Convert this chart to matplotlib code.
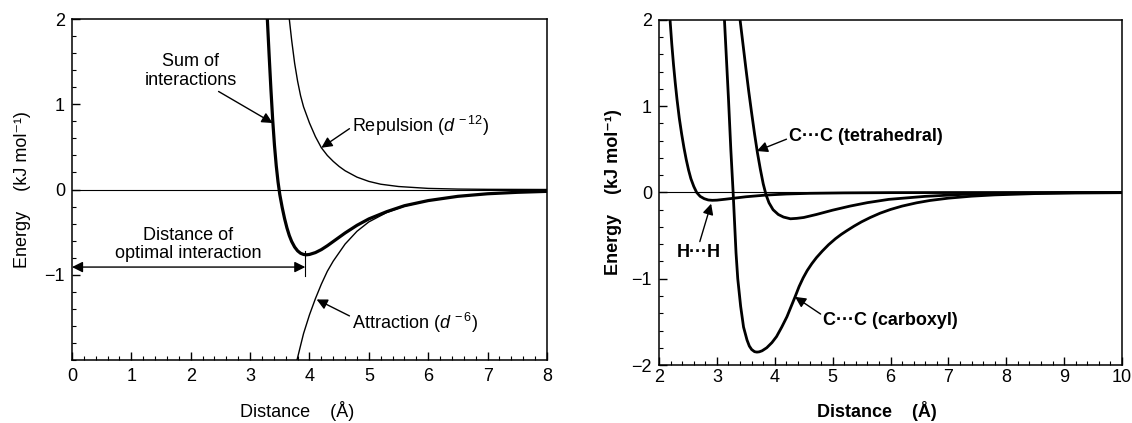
import matplotlib
matplotlib.use("Agg")
import matplotlib.pyplot as plt
from matplotlib.ticker import MultipleLocator

plt.rcParams['font.family'] = ['Liberation Sans', 'DejaVu Sans']
plt.rcParams['mathtext.fontset'] = 'custom'
plt.rcParams['mathtext.rm'] = 'Liberation Sans'
plt.rcParams['mathtext.it'] = 'Liberation Sans:italic'
plt.rcParams['mathtext.bf'] = 'Liberation Sans:bold'

# Left panel: curves (distance in A, energy in kJ/mol)
sum_d = [3.29, 3.32, 3.35, 3.38, 3.41, 3.44, 3.47, 3.50, 3.54, 3.58, 3.62, 3.66, 3.70,
         3.75, 3.80, 3.85, 3.90, 3.95, 4.00, 4.10, 4.20, 4.30, 4.40, 4.60, 4.80, 5.00,
         5.30, 5.60, 6.00, 6.50, 7.00, 7.50, 8.00]
sum_e = [2.0, 1.58, 1.18, 0.82, 0.52, 0.28, 0.09, -0.06, -0.21, -0.34, -0.45, -0.54, -0.61,
         -0.675, -0.72, -0.748, -0.762, -0.766, -0.762, -0.74, -0.705, -0.66, -0.61, -0.51, -0.42, -0.345,
         -0.26, -0.19, -0.13, -0.08, -0.05, -0.033, -0.022]

rep_d = [3.66, 3.70, 3.75, 3.80, 3.85, 3.90, 4.00, 4.10, 4.20, 4.30, 4.40, 4.50, 4.60,
         4.80, 5.00, 5.20, 5.50, 6.00, 6.50, 7.00, 8.00]
rep_e = [2.0, 1.75, 1.48, 1.27, 1.10, 0.97, 0.78, 0.62, 0.49, 0.40, 0.33, 0.27, 0.22,
         0.145, 0.095, 0.062, 0.035, 0.013, 0.005, 0.002, 0.0]

att_d = [3.79, 3.85, 3.90, 4.00, 4.10, 4.20, 4.30, 4.40, 4.60, 4.80, 5.00, 5.30, 5.60,
         6.00, 6.50, 7.00, 7.50, 8.00]
att_e = [-2.0, -1.83, -1.69, -1.47, -1.28, -1.11, -0.96, -0.84, -0.64, -0.49, -0.38, -0.27, -0.195,
         -0.13, -0.08, -0.05, -0.033, -0.022]

# Right panel curves
hh_d = [2.19, 2.22, 2.25, 2.28, 2.31, 2.35, 2.39, 2.43, 2.47, 2.51, 2.55, 2.60, 2.65,
        2.71, 2.78, 2.85, 2.92, 3.00, 3.15, 3.30, 3.50, 3.85, 4.20, 4.60, 5.20, 6.00,
        7.00, 10.0]
hh_e = [2.0, 1.72, 1.48, 1.27, 1.08, 0.86, 0.68, 0.52, 0.38, 0.26, 0.16, 0.07, 0.0,
        -0.045, -0.072, -0.087, -0.091, -0.089, -0.078, -0.066, -0.05, -0.03, -0.018, -0.01, -0.005, -0.002,
        -0.001, 0.0]

tet_d = [3.40, 3.45, 3.50, 3.55, 3.60, 3.65, 3.70, 3.75, 3.80, 3.85, 3.90, 3.97, 4.06,
         4.15, 4.27, 4.38, 4.50, 4.72, 5.00, 5.30, 5.60, 5.97, 6.60, 7.23, 8.00, 9.00, 10.0]
tet_e = [2.0, 1.72, 1.44, 1.17, 0.92, 0.68, 0.46, 0.27, 0.10, -0.03, -0.12, -0.20, -0.255,
         -0.285, -0.305, -0.30, -0.29, -0.255, -0.205, -0.158, -0.118, -0.08, -0.045, -0.023, -0.01, -0.004, -0.002]

carb_d = [3.13, 3.20, 3.24, 3.28, 3.33, 3.36, 3.41, 3.46, 3.52, 3.56, 3.60, 3.65, 3.69,
          3.73, 3.78, 3.86, 3.95, 4.03, 4.12, 4.21, 4.35, 4.42, 4.49, 4.56, 4.64, 4.72,
          4.82, 4.93, 5.05, 5.15, 5.24, 5.37, 5.50, 5.65, 5.82, 6.00, 6.20, 6.45, 6.68,
          7.00, 7.40, 7.80, 8.50, 9.20, 10.0]
carb_e = [2.0, 1.08, 0.5, 0.0, -0.7, -1.0, -1.32, -1.56, -1.71, -1.78, -1.82, -1.845, -1.85,
          -1.847, -1.835, -1.80, -1.74, -1.67, -1.56, -1.44, -1.21, -1.09, -0.99, -0.905, -0.825, -0.755,
          -0.68, -0.605, -0.535, -0.485, -0.445, -0.39, -0.34, -0.29, -0.24, -0.197, -0.158, -0.12, -0.093,
          -0.066, -0.043, -0.028, -0.013, -0.005, -0.002]

ylabel = 'Energy    (kJ mol\u207b\u00b9)'
xlabel = 'Distance    (\u00c5)'


def style_axes(ax, xmin, xmax, bold):
    ax.set_xlim(xmin, xmax)
    ax.set_ylim(-2, 2)
    ax.xaxis.set_major_locator(MultipleLocator(1))
    ax.xaxis.set_minor_locator(MultipleLocator(0.2))
    ax.yaxis.set_major_locator(MultipleLocator(1))
    ax.yaxis.set_minor_locator(MultipleLocator(0.2))
    ax.tick_params(which='both', direction='in', top=False, right=False)
    ax.tick_params(which='major', length=6, width=1)
    ax.tick_params(which='minor', length=3, width=0.8)
    ax.tick_params(axis='x', labelsize=13, pad=6)
    ax.tick_params(axis='y', labelsize=13, pad=5)
    for s in ax.spines.values():
        s.set_linewidth(1.1)
    ax.axhline(0, color='black', lw=0.8, zorder=1)
    w = 'bold' if bold else 'normal'
    ax.set_xlabel(xlabel, fontsize=13, fontweight=w)
    ax.set_ylabel(ylabel, fontsize=13, fontweight=w)


fig = plt.figure(figsize=(11.32, 4.23), dpi=100)
ax1 = fig.add_axes([0.0636, 0.149, 0.4196, 0.806])
ax2 = fig.add_axes([0.5822, 0.137, 0.409, 0.816])

# ---- left panel
style_axes(ax1, 0, 8, False)
ax1.set_yticks([-1, 0, 1, 2])
ax1.plot(rep_d, rep_e, color='black', lw=1.0)
ax1.plot(att_d, att_e, color='black', lw=1.0)
ax1.plot(sum_d, sum_e, color='black', lw=2.3)
ax1.xaxis.set_label_coords(0.474, -0.12)
ax1.yaxis.set_label_coords(-0.086, 0.5)

arw = dict(arrowstyle='-|>', color='black', lw=1.0, mutation_scale=16,
           shrinkA=0, shrinkB=0)
ax1.annotate('Sum of\ninteractions', xy=(3.38, 0.78), xytext=(2.0, 1.39),
             ha='center', va='center', fontsize=13, linespacing=1.1,
             arrowprops=dict(arw, relpos=(0.75, 0.0)))
ax1.annotate('Repulsion ($d^{\\,-12}$)', xy=(4.2, 0.49), xytext=(4.72, 0.75),
             ha='left', va='center', fontsize=13, arrowprops=dict(arw, relpos=(0.0, 0.45)))
ax1.annotate('Attraction ($d^{\\,-6}$)', xy=(4.12, -1.29), xytext=(4.72, -1.57),
             ha='left', va='center', fontsize=13, arrowprops=dict(arw, relpos=(0.0, 0.75)))
ax1.text(1.95, -0.645, 'Distance of\noptimal interaction', ha='center', va='center',
         fontsize=13, linespacing=1.1)
ax1.annotate('', xy=(0.0, -0.91), xytext=(3.93, -0.91),
             arrowprops=dict(arrowstyle='<|-|>', color='black', lw=1.0, mutation_scale=16,
                             shrinkA=0, shrinkB=0))
ax1.plot([3.93, 3.93], [-0.72, -1.01], color='black', lw=0.8)

# ---- right panel
style_axes(ax2, 2, 10, True)
ax2.plot(hh_d, hh_e, color='black', lw=2.0)
ax2.plot(tet_d, tet_e, color='black', lw=2.0)
ax2.plot(carb_d, carb_e, color='black', lw=2.0)
ax2.xaxis.set_label_coords(0.471, -0.104)
ax2.yaxis.set_label_coords(-0.080, 0.5)
ax2.tick_params(axis='x', pad=3)

ax2.annotate('C\u00b7\u00b7\u00b7C (tetrahedral)', xy=(3.69, 0.48), xytext=(4.25, 0.65),
             ha='left', va='center', fontsize=13, fontweight='bold',
             arrowprops=dict(arw, relpos=(0.0, 0.4)))
ax2.annotate('H\u00b7\u00b7\u00b7H', xy=(2.9, -0.13), xytext=(2.69, -0.70),
             ha='center', va='center', fontsize=13, fontweight='bold',
             arrowprops=dict(arw, relpos=(0.5, 1.0)))
ax2.annotate('C\u00b7\u00b7\u00b7C (carboxyl)', xy=(4.35, -1.21), xytext=(4.84, -1.48),
             ha='left', va='center', fontsize=13, fontweight='bold',
             arrowprops=dict(arw, relpos=(0.0, 0.75)))

fig.savefig('out.png', dpi=100)
